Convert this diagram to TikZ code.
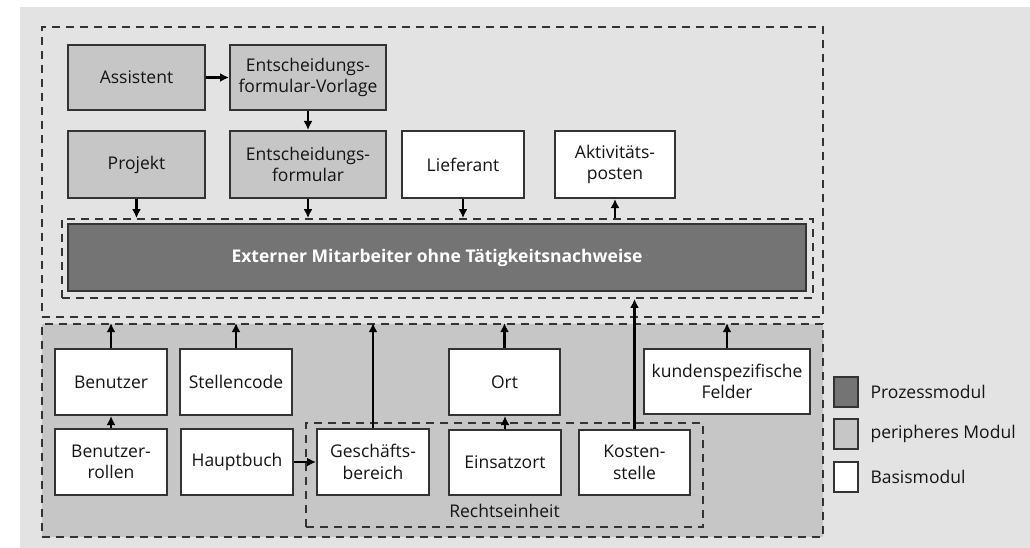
\documentclass[tikz,border=0pt]{standalone}
\usepackage{fontspec}
\setmainfont{Open Sans}
\usetikzlibrary{arrows.meta}
\definecolor{bgray}{HTML}{E3E3E3}
\definecolor{pgray}{HTML}{C6C6C6}
\definecolor{dgray}{HTML}{747474}
\definecolor{edge}{HTML}{333333}
\definecolor{ink}{HTML}{141414}
\tikzset{
  every node/.style={font=\fontsize{17.5}{21.5}\selectfont, text=ink},
  modbox/.style={draw=edge, line width=2pt, align=center, inner sep=0pt},
  basis/.style={modbox, fill=white},
  periph/.style={modbox, fill=pgray},
  process/.style={modbox, fill=dgray, text=white, font=\fontsize{17.5}{21.5}\selectfont\bfseries},
  group/.style={draw=edge, line width=1.8pt, dash pattern=on 8pt off 6pt, inner sep=0pt},
  conn/.style={line width=2.3pt, black, -{Latex[length=9pt,width=9pt]}},
}
\begin{document}
\begin{tikzpicture}[x=1pt,y=-1pt]
\useasboundingbox (0,0) rectangle (1030,548);
\fill[bgray] (20,7) rectangle (1030,548);

% groups
\node[group, minimum width=781, minimum height=290] (upper) at (432.5,172) {};
\node[group, fill=pgray, minimum width=781, minimum height=213] (lower) at (432.5,430.5) {};
\node[group, minimum width=751, minimum height=79] (inner) at (437.5,258.5) {};
\node[group, minimum width=397, minimum height=104] (rechts) at (504.5,475) {};
\node[anchor=base] (rlabel) at (504.5,517) {Rechtseinheit};

% upper modules
\node[periph, minimum width=137, minimum height=65] (assist) at (136.5,77.5) {Assistent};
\node[periph, minimum width=156, minimum height=65] (vorlage) at (308,77.5) {Entscheidungs-\\formular-Vorlage};
\node[periph, minimum width=137, minimum height=67] (projekt) at (136.5,164.5) {Projekt};
\node[periph, minimum width=156, minimum height=67] (formular) at (308,164.5) {Entscheidungs-\\formular};
\node[basis, minimum width=122, minimum height=67] (liefer) at (463,164.5) {Lieferant};
\node[basis, minimum width=120, minimum height=67] (aktiv) at (615,164.5) {Aktivitäts-\\posten};
\node[process, minimum width=738, minimum height=67] (extern) at (437,257.5) {Externer Mitarbeiter ohne Tätigkeitsnachweise};

% lower modules
\node[basis, minimum width=112, minimum height=66] (benutzer) at (111,382) {Benutzer};
\node[basis, minimum width=112, minimum height=66] (stellen) at (236,382) {Stellencode};
\node[basis, minimum width=111, minimum height=66] (ort) at (504.5,382) {Ort};
\node[basis, minimum width=166, minimum height=65] (kunden) at (727,381.5) {kundenspezifische\\Felder};
\node[basis, minimum width=112, minimum height=66] (rollen) at (111,462) {Benutzer-\\rollen};
\node[basis, minimum width=112, minimum height=66] (haupt) at (237,462) {Hauptbuch};
\node[basis, minimum width=112, minimum height=66] (gesch) at (373,462) {Geschäfts-\\bereich};
\node[basis, minimum width=112, minimum height=65] (einsatz) at (505,462.5) {Einsatzort};
\node[basis, minimum width=111, minimum height=65] (kosten) at (634.5,462.5) {Kosten-\\stelle};

% connectors
\draw[conn] (assist.east) -- (vorlage.west);
\draw[conn] (vorlage.south) -- (formular.north);
\draw[conn] (projekt.south) -- (projekt.south |- inner.north);
\draw[conn] (formular.south) -- (formular.south |- inner.north);
\draw[conn] (liefer.south) -- (liefer.south |- inner.north);
\draw[conn] (aktiv.south |- inner.north) -- (aktiv.south);
\draw[conn] (benutzer.north) -- (benutzer.north |- lower.north);
\draw[conn] (stellen.north) -- (stellen.north |- lower.north);
\draw[conn] (rollen.north) -- (benutzer.south);
\draw[conn] (haupt.east) -- (gesch.west);
\draw[conn] (gesch.north) -- (gesch.north |- lower.north);
\draw[conn] (einsatz.north) -- (einsatz.north |- ort.south);
\draw[conn] (ort.north) -- (ort.north |- lower.north);
\draw[conn] (kosten.north) -- (kosten.north |- inner.south);
\draw[conn] (kunden.north) -- (kunden.north |- lower.north);

% legend
\node[process, minimum width=24, minimum height=30] (lgproc) at (846,392) {};
\node[periph, minimum width=24, minimum height=30] (lgper) at (846,434) {};
\node[basis, minimum width=24, minimum height=30] (lgbas) at (846,477) {};
\node[anchor=west] (tproc) at (867,392) {Prozessmodul};
\node[anchor=west] (tper) at (867,434) {peripheres Modul};
\node[anchor=west] (tbas) at (867,477) {Basismodul};
\end{tikzpicture}
\end{document}
